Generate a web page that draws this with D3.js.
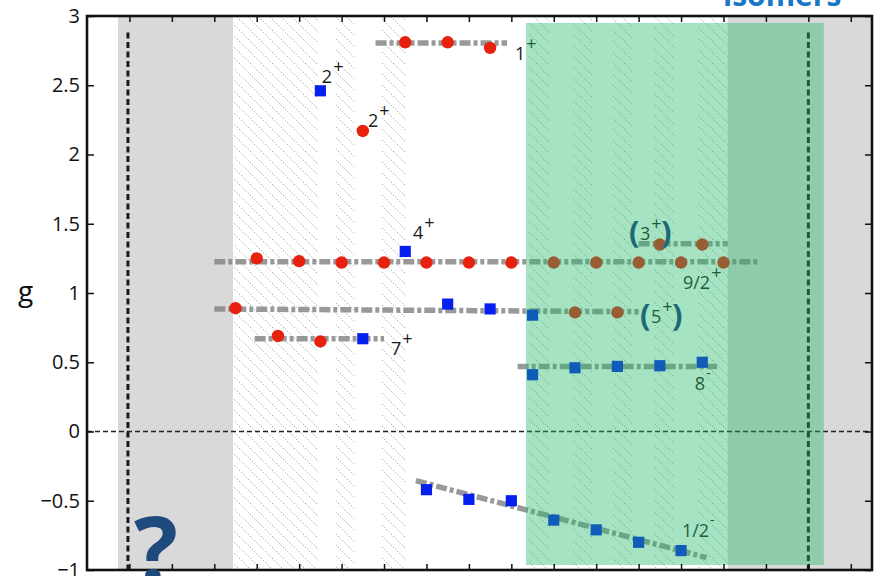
<!DOCTYPE html>
<html>
<head>
<meta charset="utf-8">
<script src="https://cdn.jsdelivr.net/npm/d3@7"></script>
<style>
  body { margin: 0; background: #fff; overflow: hidden; }
  text { font-family: "Open Sans", sans-serif; }
</style>
</head>
<body>
<div id="chart"></div>
<script>
// x: position along the chain (ticks every 2 units, no labels), y: g-factor
const xTicks = d3.range(2, 37, 2);
const yTicks = [-1, -0.5, 0, 0.5, 1, 1.5, 2, 2.5, 3];

// red circles
const redX = [7, 8, 9, 10, 11, 12, 13, 14, 15, 16, 17, 18, 19, 20, 22, 23, 24, 25, 26, 27, 28, 29, 30];
const redG = [0.89, 1.25, 0.69, 1.23, 0.65, 1.22, 2.17, 1.22, 2.81, 1.22, 2.81, 1.22, 2.77, 1.22,
              1.22, 0.86, 1.22, 0.86, 1.22, 1.35, 1.22, 1.35, 1.22];

// blue squares
const blueX = [11, 13, 15, 17, 19, 21, 21, 23, 25, 27, 29, 16, 18, 20, 22, 24, 26, 28];
const blueG = [2.46, 0.67, 1.30, 0.92, 0.885, 0.84, 0.41, 0.46, 0.47, 0.475, 0.50,
               -0.42, -0.49, -0.50, -0.64, -0.71, -0.80, -0.86];

// grey systematics lines: [x1, g1, x2, g2]
const trends = [
  [6, 1.225, 31.6, 1.225],
  [6, 0.885, 26, 0.865],
  [7.9, 0.67, 14, 0.67],
  [13.6, 2.805, 19.8, 2.805],
  [26, 1.355, 30.2, 1.355],
  [20.3, 0.47, 29.7, 0.47],
  [15.5, -0.355, 29.2, -0.91]
];

// spin labels: text, superscript, anchor
const labelText = ["2", "2", "1", "4", "7", "9/2", "8", "1/2", "3", "5"];
const labelSup  = ["+", "+", "+", "+", "+", "+", "-", "-", "+", "+"];
const labelX    = [11.07, 13.24, 20.17, 15.36, 14.33, 28.09, 28.65, 28.04, 26.06, 26.58];
const labelG    = [2.516, 2.199, 2.682, 1.390, 0.552, 1.029, 0.300, -0.762, 1.383, 0.783];
const labelParen = [false, false, false, false, false, false, false, false, true, true];

// shaded areas
const grayBands = [[1.46, 6.88], [30.2, 37]];
const greenBand = [20.69, 34.73];
const greenG = [2.95, -0.964];
const hatchStrips = [[6.9, 10.9], [11.7, 12.6], [13.9, 15.0], [20.8, 21.8], [22.9, 23.8],
                     [24.8, 25.7], [26.7, 27.7], [28.8, 30.2]];
const vLines = [1.93, 34.0];

const W = 879, H = 576;
const x = d3.scaleLinear().domain([0, 37]).range([87, 872]);
const y = d3.scaleLinear().domain([-1, 3]).range([570, 16]);

const svg = d3.select("#chart").append("svg")
  .attr("width", W).attr("height", H);

const defs = svg.append("defs");
const pat = defs.append("pattern")
  .attr("id", "hatch")
  .attr("patternUnits", "userSpaceOnUse")
  .attr("width", 11).attr("height", 11);
pat.append("path")
  .attr("d", "M-1,-1 L12,12")
  .attr("stroke", "#5e5e5e")
  .attr("stroke-width", 1)
  .attr("stroke-dasharray", "1.3,1.9");

// grey bands
svg.selectAll(".gray").data(grayBands).enter().append("rect")
  .attr("class", "gray")
  .attr("x", d => x(d[0]))
  .attr("y", y(3) - 1)
  .attr("width", d => x(d[1]) - x(d[0]))
  .attr("height", y(-1) - y(3) + 1)
  .attr("fill", "#d9d9d9");

// hatched strips
svg.selectAll(".hatch").data(hatchStrips).enter().append("rect")
  .attr("class", "hatch")
  .attr("x", d => x(d[0]))
  .attr("y", y(3))
  .attr("width", d => x(d[1]) - x(d[0]))
  .attr("height", y(-1) - y(3))
  .attr("fill", "url(#hatch)")
  .attr("opacity", 0.6);

// vertical dashed limits
svg.selectAll(".vline").data(vLines).enter().append("line")
  .attr("x1", d => x(d)).attr("x2", d => x(d))
  .attr("y1", y(2.88)).attr("y2", y(-1))
  .attr("stroke", "#1a1a1a")
  .attr("stroke-width", 3)
  .attr("stroke-dasharray", "6,3.5");

// zero line
svg.append("line")
  .attr("x1", x(0)).attr("x2", x(37))
  .attr("y1", y(0)).attr("y2", y(0))
  .attr("stroke", "#222")
  .attr("stroke-width", 1.6)
  .attr("stroke-dasharray", "5,3");

// systematics lines
svg.selectAll(".trend").data(trends).enter().append("line")
  .attr("x1", d => x(d[0])).attr("y1", d => y(d[1]))
  .attr("x2", d => x(d[2])).attr("y2", d => y(d[3]))
  .attr("stroke", "#808080")
  .attr("stroke-opacity", 0.8)
  .attr("stroke-width", 5.5)
  .attr("stroke-dasharray", "11,3,4,3");

// markers
svg.selectAll(".red").data(redX).enter().append("circle")
  .attr("cx", d => x(d))
  .attr("cy", (d, i) => y(redG[i]))
  .attr("r", 6.2)
  .attr("fill", "#e8200e");

const sq = d3.symbol().type(d3.symbolSquare).size(125);
svg.selectAll(".blue").data(blueX).enter().append("path")
  .attr("d", sq)
  .attr("transform", (d, i) => `translate(${x(d)},${y(blueG[i])})`)
  .attr("fill", "#0520ee");

// spin labels
const lab = svg.selectAll(".lab").data(labelText).enter().append("text")
  .attr("x", (d, i) => x(labelX[i]))
  .attr("y", (d, i) => y(labelG[i]))
  .attr("font-size", 18)
  .attr("fill", "#1a1a1a");
lab.append("tspan").text(d => d);
lab.append("tspan")
  .attr("dx", 1)
  .attr("dy", (d, i) => labelSup[i] === "+" ? -10 : -12)
  .attr("font-size", (d, i) => labelSup[i] === "+" ? 18 : 14)
  .text((d, i) => labelSup[i] === "+" ? "+" : "-");

// green overlay
svg.append("rect")
  .attr("x", x(greenBand[0]))
  .attr("y", y(greenG[0]))
  .attr("width", x(greenBand[1]) - x(greenBand[0]))
  .attr("height", y(greenG[1]) - y(greenG[0]))
  .attr("fill", "rgb(32,185,105)")
  .attr("fill-opacity", 0.4);

// brackets around tentative spins
const parenIdx = labelParen.map((p, i) => p ? i : -1).filter(i => i >= 0);
parenIdx.forEach(i => {
  [["(", -11], [")", 21]].forEach(p => {
    svg.append("text")
      .attr("x", x(labelX[i]) + p[1])
      .attr("y", y(labelG[i]) + 3)
      .attr("font-size", 31)
      .attr("font-weight", "bold")
      .attr("fill", "#1c6a76")
      .text(p[0]);
  });
});

// axes and frame
svg.append("g").attr("transform", `translate(0,${y(3)})`)
  .call(d3.axisBottom(x).tickValues(xTicks).tickSize(6).tickFormat(""))
  .call(g => g.select(".domain").remove());
svg.append("g").attr("transform", `translate(0,${y(-1)})`)
  .call(d3.axisTop(x).tickValues(xTicks).tickSize(6).tickFormat(""))
  .call(g => g.select(".domain").remove());
svg.append("g").attr("transform", `translate(${x(37)},0)`)
  .call(d3.axisLeft(y).tickValues(yTicks).tickSize(7).tickFormat(""))
  .call(g => g.select(".domain").remove());
const yAx = svg.append("g").attr("transform", `translate(${x(0)},0)`)
  .call(d3.axisLeft(y).tickValues(yTicks).tickSizeInner(-7).tickSizeOuter(0).tickPadding(7)
    .tickFormat(d3.format("")))
  .call(g => g.select(".domain").remove());
yAx.selectAll("text")
  .attr("font-size", 20)
  .attr("font-family", "'Open Sans', sans-serif")
  .attr("fill", "#111");
svg.selectAll(".tick line").attr("stroke", "#111").attr("stroke-width", 1.5);

svg.append("rect")
  .attr("x", x(0)).attr("y", y(3))
  .attr("width", x(37) - x(0))
  .attr("height", y(-1) - y(3))
  .attr("fill", "none")
  .attr("stroke", "#111")
  .attr("stroke-width", 2.6);

// y title
svg.append("text")
  .attr("x", 18).attr("y", 301)
  .attr("font-size", 28)
  .attr("fill", "#111")
  .text("g");

// cut-off header and question mark
svg.append("text")
  .attr("x", 723).attr("y", 6)
  .attr("font-size", 30)
  .attr("font-weight", "bold")
  .attr("fill", "#1878c8")
  .text("isomers");

svg.append("text")
  .attr("x", 134).attr("y", 583)
  .attr("font-size", 92)
  .attr("font-weight", "bold")
  .attr("fill", "#1f4a7e")
  .text("?");
</script>
</body>
</html>
